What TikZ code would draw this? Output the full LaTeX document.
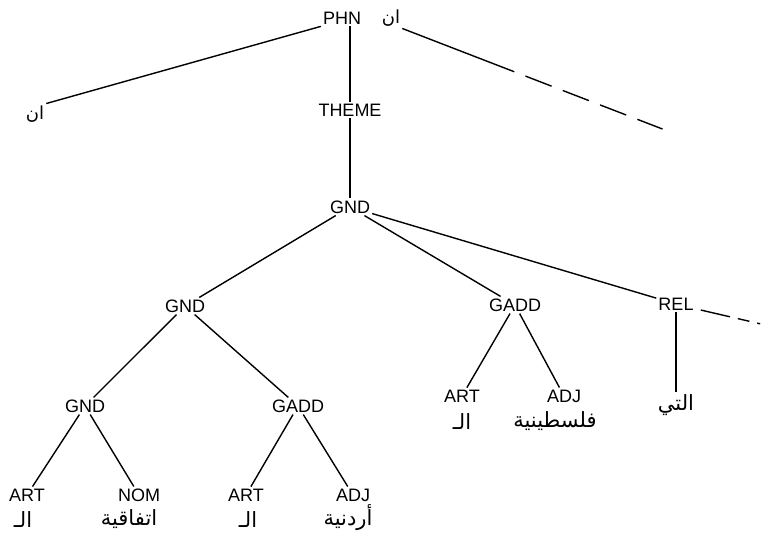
\documentclass[tikz,border=0pt]{standalone}
\usepackage{fontspec}
\setmainfont{Liberation Sans}
\newfontfamily\arabicfont[Script=Arabic]{DejaVu Sans}
\TeXXeTstate=1
\begin{document}
\begin{tikzpicture}[x=1pt,y=-1pt,
  lab/.style={font=\fontsize{18}{20}\selectfont, inner sep=2pt},
  ar/.style={font=\arabicfont\fontsize{21}{24}\selectfont, inner sep=2pt},
  arsmall/.style={font=\arabicfont\fontsize{18}{20}\selectfont, inner sep=2pt},
  edge/.style={line width=1.4pt}]
\useasboundingbox (0,0) rectangle (761,536);
% tree labels
\node[lab] (phn) at (342,18) {PHN};
\node[arsmall] (an1) at (391,18) {\beginR ان\endR};
\node[arsmall] (an2) at (35,114) {\beginR ان\endR};
\node[lab] (theme) at (350,110) {THEME};
\node[lab] (gnd0) at (350,207) {GND};
\node[lab] (gnd1) at (185,306) {GND};
\node[lab] (gadd1) at (515,305) {GADD};
\node[lab] (rel) at (676,304) {REL};
\node[lab] (gnd2) at (85,406) {GND};
\node[lab] (gadd2) at (298,406) {GADD};
\node[lab] (art1) at (27,495) {ART};
\node[lab] (nom) at (139,495) {NOM};
\node[lab] (art2) at (246,495) {ART};
\node[lab] (adj2) at (353,495) {ADJ};
\node[lab] (art3) at (462,396) {ART};
\node[lab] (adj3) at (564,396) {ADJ};
% arabic words
\node[ar] (al1) at (23,520) {\beginR الـ\endR};
\node[ar] (ittifaq) at (129,519) {\beginR اتفاقية\endR};
\node[ar] (al2) at (248,520) {\beginR الـ\endR};
\node[ar] (urdun) at (348,518) {\beginR أردنية\endR};
\node[ar] (al3) at (462,422) {\beginR الـ\endR};
\node[ar] (filast) at (555,421) {\beginR فلسطينية\endR};
\node[ar] (allati) at (676,405) {\beginR التي\endR};
% free ends
\coordinate (endA) at (665,130);
\coordinate (endB) at (761,324);
% connectors
\draw[edge] (phn.south west) -- (an2.north east);
\draw[edge] (theme.north |- phn.south) -- (theme.north);
\draw[edge] (theme) -- (gnd0);
\draw[edge, dash pattern=on 120pt off 12pt on 28pt off 12pt on 28pt off 12pt on 28pt off 12pt on 27pt] (an1.south east) -- (endA);
\draw[edge] (gnd0) -- (gnd1);
\draw[edge] (gnd0) -- (gadd1);
\draw[edge] (gnd0) -- (rel);
\draw[edge, dash pattern=on 30pt off 8pt on 12pt off 8pt on 3pt] (rel.east) ++(5,6) -- (endB);
\draw[edge] (gnd1) -- (gnd2);
\draw[edge] (gnd1) -- (gadd2);
\draw[edge] (gnd2) -- (art1);
\draw[edge] (gnd2) -- (nom);
\draw[edge] (gadd2) -- (art2);
\draw[edge] (gadd2) -- (adj2);
\draw[edge] (gadd1) -- (art3);
\draw[edge] (gadd1) -- (adj3);
\draw[edge] (rel) -- (allati);
\end{tikzpicture}
\end{document}
